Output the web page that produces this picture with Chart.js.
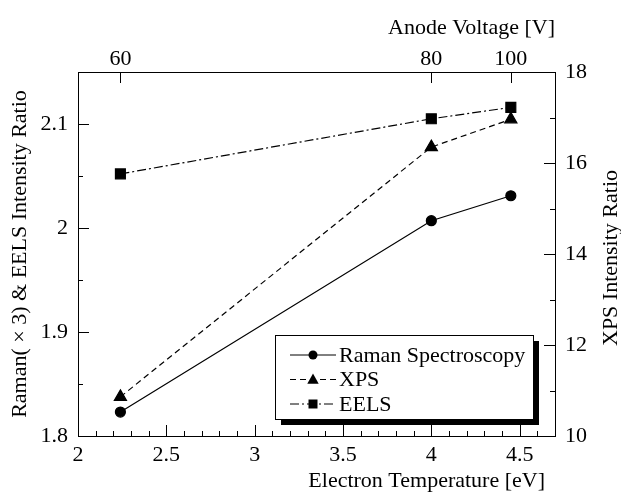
<!DOCTYPE html>
<html>
<head>
<meta charset="utf-8">
<script src="https://cdn.jsdelivr.net/npm/chart.js@4.4.0/dist/chart.umd.min.js"></script>
<style>
  html, body { margin: 0; padding: 0; background: #fff; }
  #wrap { width: 621px; height: 495px; }
</style>
</head>
<body>
<div id="wrap"><canvas id="myChart" width="621" height="495"></canvas></div>
<script>
// values
const temperature = [2.24, 4.0, 4.45];      // electron temperature [eV]
const anodeVoltage = [60, 80, 100];          // top axis labels, at the same temperatures
const raman = [1.823, 2.007, 2.031];
const xps = [10.86, 16.35, 16.96];
const eels = [2.052, 2.105, 2.116];
const seriesLabels = ['Raman Spectroscopy', 'XPS', 'EELS'];

const serif = "'Liberation Serif', 'Times New Roman', serif";
Chart.defaults.font.family = serif;
Chart.defaults.font.size = 22;
Chart.defaults.color = '#000';

const toPoints = (ys) => temperature.map((x, i) => ({ x: x, y: ys[i] }));

// draw a marker the same way for plot and legend
const marker = (ctx, style, x, y, r) => {
  ctx.beginPath();
  if (style === 'circle') {
    ctx.arc(x, y, r, 0, Math.PI * 2);
  } else if (style === 'triangle') {
    ctx.moveTo(x, y - r);
    ctx.lineTo(x + r * 0.95, y + r * 0.7);
    ctx.lineTo(x - r * 0.95, y + r * 0.7);
    ctx.closePath();
  } else {
    ctx.rect(x - r, y - r, 2 * r, 2 * r);
  }
  ctx.fill();
};

// inward tick marks, legend box and the titles placed by hand
const frame = {
  id: 'frame',
  afterDraw(chart) {
    const ctx = chart.ctx, a = chart.chartArea;
    ctx.save();
    ctx.strokeStyle = '#000';
    ctx.lineWidth = 1;
    const sides = { x: 'bottom', x2: 'top', y: 'left', y1: 'right' };
    Object.keys(sides).forEach(id => {
      const scale = chart.scales[id];
      scale.ticks.forEach(t => {
        const p = Math.round(scale.getPixelForValue(t.value)) + 0.5;
        const len = t.label !== '' ? 11 : 5;
        ctx.beginPath();
        if (sides[id] === 'bottom') { ctx.moveTo(p, a.bottom); ctx.lineTo(p, a.bottom - len); }
        if (sides[id] === 'top') { ctx.moveTo(p, a.top); ctx.lineTo(p, a.top + len); }
        if (sides[id] === 'left') { ctx.moveTo(a.left, p); ctx.lineTo(a.left + len, p); }
        if (sides[id] === 'right') { ctx.moveTo(a.right, p); ctx.lineTo(a.right - len, p); }
        ctx.stroke();
      });
    });

    // legend with drop shadow
    const lx = 275, ly = 335, lw = 258, lh = 84;
    ctx.fillStyle = '#000';
    ctx.fillRect(lx + 6, ly + 6, lw, lh);
    ctx.fillStyle = '#fff';
    ctx.fillRect(lx, ly, lw, lh);
    ctx.strokeRect(lx + 0.5, ly + 0.5, lw, lh);
    ctx.font = '22px ' + serif;
    ctx.textBaseline = 'middle';
    ctx.textAlign = 'left';
    chart.data.datasets.forEach((ds, i) => {
      const cy = ly + 20 + i * 24.5;
      ctx.setLineDash(ds.borderDash || []);
      ctx.beginPath();
      ctx.moveTo(290, cy); ctx.lineTo(336, cy);
      ctx.stroke();
      ctx.setLineDash([]);
      ctx.fillStyle = '#000';
      marker(ctx, ds.pointStyle, 313, cy, ds.pointStyle === 'triangle' ? 6 : 4.5);
      ctx.fillText(ds.label, 339, cy + 1);
    });

    // x axis titles
    ctx.textAlign = 'right';
    ctx.fillText('Electron Temperature [eV]', 545, 481);
    ctx.fillText('Anode Voltage [V]', 555, 28);

    // right axis title reads bottom to top, like the left one
    ctx.translate(611, (a.top + a.bottom) / 2 + 4);
    ctx.rotate(-Math.PI / 2);
    ctx.textAlign = 'center';
    ctx.fillText('XPS Intensity Ratio', 0, 0);
    ctx.restore();
  }
};

const axisBase = {
  border: { display: true, color: '#000', width: 1 },
  grid: { drawOnChartArea: false, drawTicks: false }
};

var ctx = document.getElementById('myChart').getContext('2d');
var chart = new Chart(ctx, {
  type: 'scatter',
  data: {
    datasets: [{
      label: seriesLabels[0],
      data: toPoints(raman),
      yAxisID: 'y',
      borderColor: '#000',
      backgroundColor: '#000',
      borderWidth: 1.2,
      showLine: true,
      pointStyle: 'circle',
      pointRadius: 5
    }, {
      label: seriesLabels[1],
      data: toPoints(xps),
      yAxisID: 'y1',
      borderColor: '#000',
      backgroundColor: '#000',
      borderWidth: 1.2,
      borderDash: [6, 4],
      showLine: true,
      pointStyle: 'triangle',
      pointRadius: 7
    }, {
      label: seriesLabels[2],
      data: toPoints(eels),
      yAxisID: 'y',
      borderColor: '#000',
      backgroundColor: '#000',
      borderWidth: 1.2,
      borderDash: [9, 3, 2, 3],
      showLine: true,
      pointStyle: 'rect',
      pointRadius: 7
    }]
  },
  options: {
    responsive: false,
    animation: false,
    devicePixelRatio: 1,
    layout: { padding: 0 },
    plugins: {
      legend: { display: false },
      tooltip: { enabled: false }
    },
    scales: {
      x: {
        ...axisBase,
        type: 'linear',
        position: 'bottom',
        min: 2, max: 4.7,
        afterFit: (s) => { s.height = 59; },
        ticks: {
          stepSize: 0.1,
          autoSkip: false,
          maxRotation: 0,
          padding: 6,
          callback: (v) => Math.abs(v * 2 - Math.round(v * 2)) < 1e-6 ? String(+v.toFixed(1)) : ''
        }
      },
      x2: {
        ...axisBase,
        type: 'linear',
        position: 'top',
        min: 2, max: 4.7,
        afterFit: (s) => { s.height = 72; },
        afterBuildTicks: (s) => { s.ticks = temperature.map(v => ({ value: v })); },
        ticks: {
          autoSkip: false,
          maxRotation: 0,
          padding: 0,
          callback: (v, i) => String(anodeVoltage[i])
        }
      },
      y: {
        ...axisBase,
        position: 'left',
        min: 1.8, max: 2.15,
        afterFit: (s) => { s.width = 78; },
        ticks: {
          stepSize: 0.05,
          autoSkip: false,
          padding: 10,
          callback: (v) => Math.round(v * 100) % 10 === 0 ? String(+v.toFixed(1)) : ''
        },
        title: {
          display: true,
          text: 'Raman( × 3) & EELS Intensity Ratio',
          font: { size: 22, lineHeight: 1 },
          padding: { top: 9, bottom: 0 }
        }
      },
      y1: {
        ...axisBase,
        position: 'right',
        min: 10, max: 18,
        afterFit: (s) => { s.width = 66; },
        ticks: {
          stepSize: 1,
          autoSkip: false,
          padding: 10,
          callback: (v) => Math.round(v) % 2 === 0 ? String(v) : ''
        }
      }
    }
  },
  plugins: [frame]
});
</script>
</body>
</html>
